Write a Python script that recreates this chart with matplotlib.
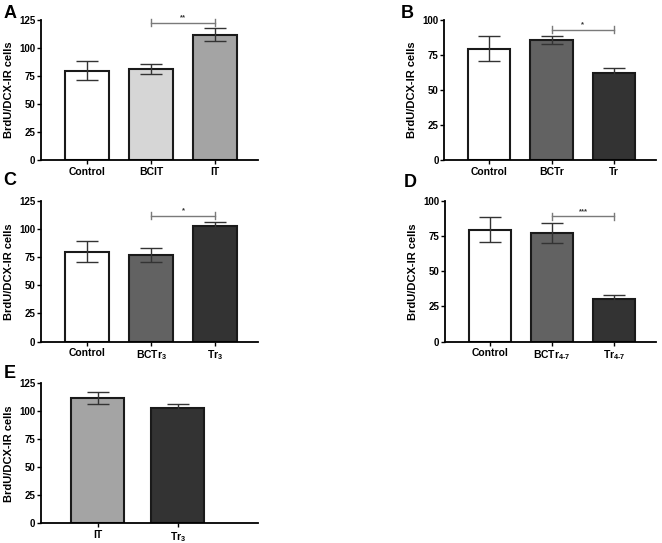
import matplotlib
matplotlib.use("Agg")
import matplotlib.pyplot as plt

plt.rcParams["font.family"] = ["Liberation Sans", "DejaVu Sans"]
plt.rcParams["font.weight"] = "bold"
plt.rcParams["mathtext.fontset"] = "custom"
plt.rcParams["mathtext.rm"] = "Liberation Sans:bold"
plt.rcParams["mathtext.default"] = "rm"

# panel A
labels_a = ["Control", "BCIT", "IT"]
means_a = [80, 81, 112]
errs_a = [8.5, 4.5, 5.5]
colors_a = ["#ffffff", "#d6d6d6", "#a4a4a4"]

# panel B
labels_b = ["Control", "BCTr", "Tr"]
means_b = [79.5, 86, 62]
errs_b = [9, 3, 4]
colors_b = ["#ffffff", "#626262", "#333333"]

# panel C
labels_c = ["Control", "BCTr$_3$", "Tr$_3$"]
means_c = [80, 77, 103]
errs_c = [9, 6, 3.5]
colors_c = ["#ffffff", "#626262", "#333333"]

# panel D
labels_d = ["Control", "BCTr$_{4\\text{-}7}$", "Tr$_{4\\text{-}7}$"]
means_d = [79.5, 77, 30]
errs_d = [9, 7, 3]
colors_d = ["#ffffff", "#626262", "#333333"]

# panel E
labels_e = ["IT", "Tr$_3$"]
means_e = [112, 103]
errs_e = [5.5, 3.5]
colors_e = ["#a4a4a4", "#333333"]

# significance: (bar from, bar to, height, stars)
sig_a = (1, 2, 122.5, "**")
sig_b = (1, 2, 93, "*")
sig_c = (1, 2, 112, "*")
sig_d = (1, 2, 89, "***")

fig = plt.figure(figsize=(6.62, 5.43), dpi=100)


def draw_panel(rect, labels, means, errs, colors, ymax, step, letter, letter_xy,
               sig=None, xlim=(-0.72, 2.67), width=0.68):
    ax = fig.add_axes(rect)
    x = list(range(len(labels)))
    ax.bar(x, means, width=width, color=colors, edgecolor="#1a1a1a", linewidth=1.5, zorder=2)
    ax.errorbar(x, means, yerr=errs, fmt="none", ecolor="#333333", elinewidth=1.0,
                capsize=8, capthick=1.0, zorder=3)
    ax.set_xlim(*xlim)
    ax.set_ylim(0, ymax)
    ax.set_yticks(range(0, ymax + 1, step))
    ax.set_xticks(x)
    ax.set_xticklabels(labels, fontsize=7.5, fontweight="bold")
    ax.tick_params(axis="y", labelsize=7, length=3, width=1, direction="out", pad=1)
    ax.tick_params(axis="x", length=3, width=1, direction="out", pad=2)
    for t in ax.get_yticklabels():
        t.set_fontweight("bold")
    ax.spines["top"].set_visible(False)
    ax.spines["right"].set_visible(False)
    ax.spines["left"].set_linewidth(1.3)
    ax.spines["bottom"].set_linewidth(1.3)
    ax.set_ylabel("BrdU/DCX-IR cells", fontsize=8, fontweight="bold", labelpad=4)
    if sig is not None:
        i, j, h, stars = sig
        ax.plot([i, j], [h, h], color="#7a7a7a", linewidth=1.0, clip_on=False, zorder=3)
        tick = ymax * 0.025
        ax.plot([i, i], [h - tick, h + tick], color="#7a7a7a", linewidth=1.0, clip_on=False)
        ax.plot([j, j], [h - tick, h + tick], color="#7a7a7a", linewidth=1.0, clip_on=False)
        ax.text((i + j) / 2, h + ymax * 0.01, stars, ha="center", va="bottom", fontsize=5.5,
                color="#333333")
    fig.text(letter_xy[0], letter_xy[1], letter, fontsize=13, fontweight="bold",
             ha="left", va="center")
    return ax


draw_panel([0.062, 0.705, 0.328, 0.258], labels_a, means_a, errs_a, colors_a, 125, 25,
           "A", (0.005, 0.975), sig=sig_a)
draw_panel([0.671, 0.705, 0.320, 0.258], labels_b, means_b, errs_b, colors_b, 100, 25,
           "B", (0.605, 0.975), sig=sig_b)
draw_panel([0.062, 0.371, 0.328, 0.259], labels_c, means_c, errs_c, colors_c, 125, 25,
           "C", (0.005, 0.668), sig=sig_c)
draw_panel([0.672, 0.371, 0.319, 0.259], labels_d, means_d, errs_d, colors_d, 100, 25,
           "D", (0.610, 0.663), sig=sig_d)
draw_panel([0.062, 0.036, 0.328, 0.258], labels_e, means_e, errs_e, colors_e, 125, 25,
           "E", (0.005, 0.313), xlim=(-0.706, 2.0), width=0.66)

fig.savefig("out.png", dpi=100)
